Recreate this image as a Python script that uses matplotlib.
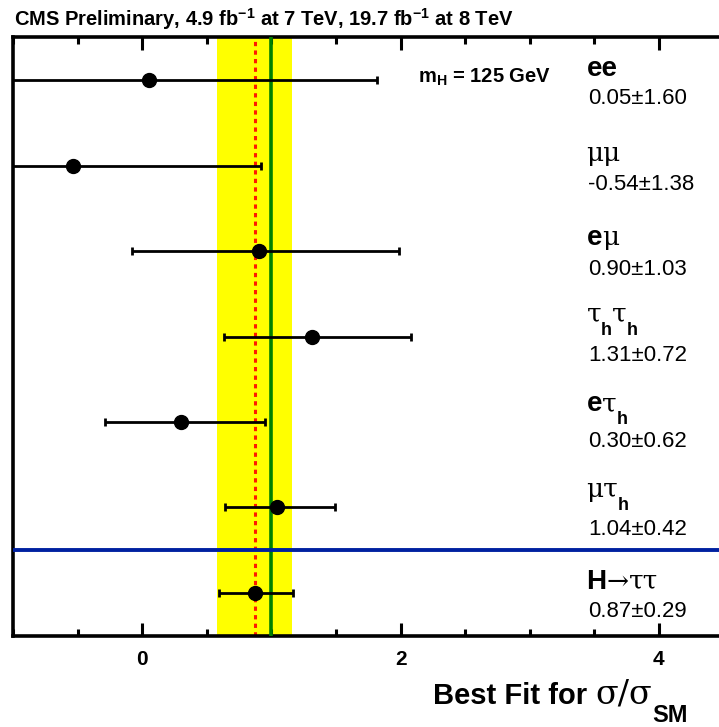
import matplotlib
matplotlib.use('Agg')
import matplotlib.pyplot as plt
from matplotlib.ticker import MultipleLocator

plt.rcParams['font.family'] = ['Liberation Sans', 'DejaVu Sans']
plt.rcParams['mathtext.fontset'] = 'custom'
plt.rcParams['mathtext.rm'] = 'Liberation Sans:bold'
plt.rcParams['mathtext.it'] = 'Liberation Sans:bold'
plt.rcParams['mathtext.bf'] = 'Liberation Sans:bold'
plt.rcParams['mathtext.sf'] = 'Liberation Sans:bold'

# ---- data ----
channels = ['ee', 'μμ', 'eμ', 'τhτh', 'eτh', 'μτh', 'H→ττ']
value_labels = ['0.05\u00b11.60', '-0.54\u00b11.38', '0.90\u00b11.03', '1.31\u00b10.72',
                '0.30\u00b10.62', '1.04\u00b10.42', '0.87\u00b10.29']
best_fit = [0.05, -0.54, 0.90, 1.31, 0.30, 1.04, 0.87]
err_low = [1.43, 1.30, 0.98, 0.68, 0.59, 0.40, 0.28]
err_high = [1.77, 1.46, 1.09, 0.77, 0.65, 0.45, 0.30]
row_pos = [7, 6, 5, 4, 3, 2, 1]
combined_mu = 0.87
combined_err = 0.29
sm_value = 1.0
separator_y = 1.5

# ---- styled pieces for the channel names: (text, kind) ----
B, G, S = 'bold', 'greek', 'sub'
name_pieces = {
    'ee': [('ee', B)],
    'μμ': [('μμ', G)],
    'eμ': [('e', B), ('μ', G)],
    'τhτh': [('τ', G), ('h', S), ('τ', G), ('h', S)],
    'eτh': [('e', B), ('τ', G), ('h', S)],
    'μτh': [('μτ', G), ('h', S)],
    'H→ττ': [('H', B), ('→', G), ('ττ', G)],
}
name_dy = [0.045, 0.05, 0.07, 0.17, 0.125, 0.12, 0.05]
value_dy = [-0.285, -0.285, -0.285, -0.285, -0.29, -0.32, -0.28]
styles = {
    B: dict(fontsize=20, family=['Liberation Sans'], fontweight='bold', dy=0),
    G: dict(fontsize=19, family=['DejaVu Serif'], fontweight='normal', dy=0),
    S: dict(fontsize=13, family=['Liberation Sans'], fontweight='bold', dy=-9.5),
}


def chain_text(ax, x, y, pieces, transform):
    prev = None
    for s, kind in pieces:
        st = dict(styles[kind])
        dy = st.pop('dy')
        if prev is None:
            prev = ax.annotate(s, xy=(x, y), xycoords=transform, xytext=(0, dy),
                               textcoords='offset points', va='baseline', ha='left',
                               annotation_clip=False, **st)
        else:
            prev = ax.annotate(s, xy=(1, y), xycoords=(prev, transform), xytext=(0, dy),
                               textcoords='offset points', va='baseline', ha='left',
                               annotation_clip=False, **st)
    return prev


fig = plt.figure(figsize=(7.19, 7.27), dpi=100)
ax = fig.add_axes([13.3 / 719, (727 - 635.7) / 727, 710 / 719, 598.4 / 727])
ax.set_xlim(-1, 4.5)
ax.set_ylim(0.5, 7.5)

ax.axvspan(combined_mu - combined_err, combined_mu + combined_err, color='#FFFF00', lw=0, zorder=1)
ax.axvline(combined_mu, color='#FF1A00', lw=2.2, dashes=(1.4, 1.4), zorder=2)
ax.axvline(sm_value, color='#008000', lw=2.6, zorder=3)
ax.axhline(separator_y, color='#0020A0', lw=2.8, zorder=3)

ax.errorbar(best_fit, row_pos, xerr=[err_low, err_high], fmt='o', color='black',
            ms=10, elinewidth=2, capsize=2.8, capthick=2, zorder=5)

for ch, val, y, dy, vdy in zip(channels, value_labels, row_pos, name_dy, value_dy):
    chain_text(ax, 3.44, y + dy, name_pieces[ch], ax.transData)
    ax.text(3.455, y + vdy, val, fontsize=16, va='baseline', ha='left')

ax.text(2.65, 7.03, r'm$_{\mathbf{H}}$ = 125 GeV', fontsize=14.5, fontweight='bold',
        va='center', ha='center')

for s in ['top', 'left', 'bottom', 'right']:
    ax.spines[s].set_linewidth(2.6)
ax.set_yticks([])
ax.xaxis.set_major_locator(MultipleLocator(2))
ax.xaxis.set_minor_locator(MultipleLocator(0.5))
ax.tick_params(axis='x', which='both', direction='in', top=True, width=2.2, labelsize=15, pad=10)
ax.tick_params(axis='x', which='major', length=9.4)
ax.tick_params(axis='x', which='minor', length=5)
for lbl in ax.get_xticklabels():
    lbl.set_fontweight('bold')

fig.text(14 / 719, 1 - 26 / 727,
         r'CMS Preliminary, 4.9 fb$^{-1}$ at 7 TeV, 19.7 fb$^{-1}$ at 8 TeV',
         fontsize=14.5, fontweight='bold', va='baseline', ha='left')

# x-axis title built from pieces: "Best Fit for σ/σ_SM"
styles['xl'] = dict(fontsize=21, family=['Liberation Sans'], fontweight='bold', dy=0)
styles['xg'] = dict(fontsize=24, family=['DejaVu Serif'], fontweight='normal', dy=0)
styles['xs'] = dict(fontsize=17, family=['Liberation Sans'], fontweight='bold', dy=-13)
chain_text(ax, 433 / 719, 1 - 704 / 727,
           [('Best Fit for ', 'xl'), ('σ/σ', 'xg'), ('SM', 'xs')], fig.transFigure)

fig.savefig('out.png', dpi=100)
